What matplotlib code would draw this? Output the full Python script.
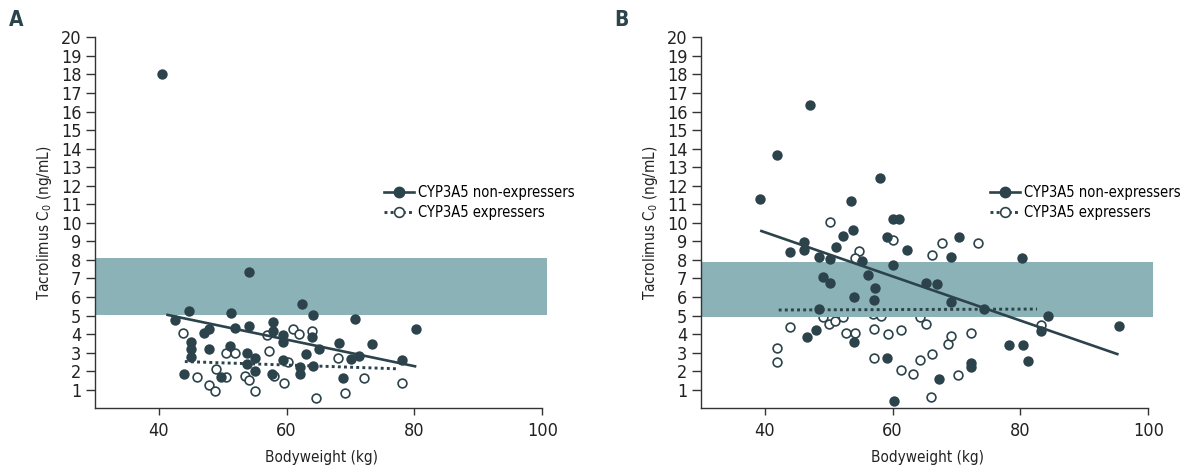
import numpy as np
import matplotlib.pyplot as plt
import matplotlib.font_manager as fm

# the original uses a narrow sans; pick the narrowest regular one available
stretch_rank = {'ultra-condensed': 0, 'extra-condensed': 1, 'condensed': 2,
                'semi-condensed': 3}
family_rank = {'Noto Sans': 0, 'Open Sans': 1, 'Roboto': 2, 'DejaVu Sans': 3}
narrow = None
best = None
for f in fm.fontManager.ttflist:
    if f.stretch in stretch_rank and f.style == 'normal' and f.weight in (400, 'normal', 'regular'):
        key = (stretch_rank[f.stretch], family_rank.get(f.name, 9))
        if best is None or key < best:
            best = key
            narrow = (f.name, f.stretch)
if narrow:
    plt.rcParams['font.family'] = [narrow[0], 'DejaVu Sans']
    plt.rcParams['font.stretch'] = narrow[1]
    tick_fs, label_fs, legend_fs = 13, 11, 10.5
else:
    plt.rcParams['font.family'] = ['Liberation Sans', 'DejaVu Sans']
    tick_fs, label_fs, legend_fs = 11.5, 10, 9

dark = '#2c434b'
band_col = '#8ab2b7'

# panel A - CYP3A5 non-expressers (filled)
a_non_x = [40.6, 54.1, 42.5, 44.8, 51.25, 62.5, 64.2, 70.7, 80.2, 57.9, 57.9, 47.9, 47.1,
           51.9, 54.1, 59.5, 59.5, 64.0, 68.2, 73.4, 45.0, 45.0, 45.0, 47.9, 51.1, 65.1,
           63.0, 53.85, 55.05, 59.5, 70.1, 71.3, 78.1, 53.85, 62.1, 62.1, 64.1, 55.05,
           57.7, 49.7, 44.0, 68.9]
a_non_y = [18.0, 7.36, 4.77, 5.27, 5.16, 5.63, 5.05, 4.8, 4.26, 4.67, 4.19, 4.3, 4.05,
           4.35, 4.44, 3.94, 3.58, 3.86, 3.54, 3.45, 3.58, 3.2, 2.75, 3.2, 3.38, 3.2,
           2.93, 3.0, 2.7, 2.61, 2.66, 2.84, 2.61, 2.39, 2.21, 1.83, 2.3, 2.01,
           1.83, 1.67, 1.83, 1.62]
# panel A - CYP3A5 expressers (open)
a_exp_x = [43.8, 61.0, 61.9, 64.0, 57.0, 57.2, 50.5, 51.9, 68.1, 60.3, 49.0, 46.0, 50.5,
           53.5, 58.1, 72.1, 47.9, 54.2, 59.6, 78.1, 48.8, 55.1, 69.1, 64.6]
a_exp_y = [4.05, 4.26, 3.99, 4.19, 3.96, 3.1, 2.97, 2.97, 2.7, 2.5, 2.1, 1.67, 1.67,
           1.76, 1.76, 1.62, 1.24, 1.53, 1.38, 1.35, 0.95, 0.93, 0.84, 0.54]
a_fit_non_x = [41.2, 80.3]
a_fit_non_y = [5.05, 2.25]
a_fit_exp_x = [44.1, 77.3]
a_fit_exp_y = [2.52, 2.13]
a_range = [5.05, 8.08]

# panel B - CYP3A5 non-expressers (filled)
b_non_x = [39.2, 41.9, 47.1, 58.1, 53.5, 60.0, 61.0, 53.8, 52.3, 59.2, 70.4, 46.2, 46.2,
           44.0, 51.1, 62.3, 48.5, 50.2, 69.2, 80.2, 55.2, 60.0, 56.1, 49.2, 50.3, 65.2,
           67.0, 57.2, 54.0, 57.1, 69.1, 74.3, 48.5, 84.3, 83.3, 48.1, 46.7, 54.0, 78.2,
           80.4, 81.2, 59.1, 72.2, 72.2, 67.3, 60.2, 95.4]
b_non_y = [11.28, 13.67, 16.33, 12.41, 11.19, 10.2, 10.2, 9.62, 9.31, 9.21, 9.24, 8.99, 8.54,
           8.4, 8.69, 8.54, 8.15, 8.04, 8.13, 8.09, 7.93, 7.7, 7.18, 7.07, 6.78, 6.75,
           6.72, 6.47, 6.02, 5.84, 5.74, 5.36, 5.36, 4.96, 4.15, 4.22, 3.83, 3.59, 3.42,
           3.42, 2.54, 2.73, 2.43, 2.25, 1.58, 0.39, 4.41]
# panel B - CYP3A5 expressers (open)
b_exp_x = [50.2, 60.0, 54.8, 54.1, 67.7, 73.3, 66.2, 49.1, 50.1, 51.0, 52.3, 44.0, 52.7,
           54.15, 57.1, 59.3, 61.3, 42.0, 42.0, 57.1, 61.3, 63.2, 64.3, 66.2, 68.7, 69.1,
           72.2, 70.2, 66.0, 83.3, 64.3, 65.2, 57.0, 58.2]
b_exp_y = [10.05, 9.05, 8.5, 8.1, 8.93, 8.93, 8.25, 4.94, 4.53, 4.73, 4.94, 4.4, 4.08,
           4.08, 4.26, 4.0, 4.23, 3.25, 2.5, 2.72, 2.05, 1.85, 2.62, 2.95, 3.47, 3.88,
           4.07, 1.78, 0.62, 4.5, 4.9, 4.52, 5.1, 5.0]
b_fit_non_x = [39.3, 95.35]
b_fit_non_y = [9.58, 2.9]
b_fit_exp_x = [42.2, 82.6]
b_fit_exp_y = [5.3, 5.35]
b_range = [4.9, 7.9]

x_ticks = [40, 60, 80, 100]
y_ticks = list(range(1, 21))

fig = plt.figure(figsize=(11.82, 4.67), dpi=100)
ax_a = fig.add_axes([0.0801, 0.1257, 0.383, 0.7944])
ax_b = fig.add_axes([0.5928, 0.1257, 0.383, 0.7944])

panels = [
    (ax_a, 'A', a_non_x, a_non_y, a_exp_x, a_exp_y, a_fit_non_x, a_fit_non_y,
     a_fit_exp_x, a_fit_exp_y, a_range),
    (ax_b, 'B', b_non_x, b_non_y, b_exp_x, b_exp_y, b_fit_non_x, b_fit_non_y,
     b_fit_exp_x, b_fit_exp_y, b_range),
]

for ax, letter, nx, ny, ex, ey, fnx, fny, fex, fey, rng in panels:
    # open circles sit under the target band, filled ones on top
    ax.scatter(ex, ey, s=40, facecolor='white', edgecolor=dark, linewidth=1.2, zorder=1)
    ax.axhspan(rng[0], rng[1], color=band_col, lw=0, zorder=2)
    ax.scatter(nx, ny, s=56, color=dark, lw=0, zorder=3)
    ax.plot(fnx, fny, color=dark, lw=1.9, zorder=4, solid_capstyle='butt')
    ax.plot(fex, fey, color=dark, lw=2.1, ls=(0, (1, 1.1)), zorder=4)

    ax.set_xlim(30, 100.8)
    ax.set_ylim(0, 20)
    ax.spines['top'].set_visible(False)
    ax.spines['right'].set_visible(False)
    ax.spines['bottom'].set_bounds(30, 100)
    for sp in ('left', 'bottom'):
        ax.spines[sp].set_color('#333333')
        ax.spines[sp].set_linewidth(1.0)
    ax.set_xticks(x_ticks)
    ax.set_yticks(y_ticks)
    ax.tick_params(axis='y', direction='out', length=6.5, width=1.0, pad=3,
                   labelsize=tick_fs, colors='#333333', labelcolor='#222222')
    ax.tick_params(axis='x', direction='out', length=5, width=1.0, pad=5,
                   labelsize=tick_fs, colors='#333333', labelcolor='#222222')
    ax.set_xlabel('Bodyweight (kg)', fontsize=label_fs, color='#222222', labelpad=7)
    ax.set_ylabel(r'Tacrolimus C$_\mathregular{0}$ (ng/mL)', fontsize=label_fs,
                  color='#222222', labelpad=5)

    h_non, = ax.plot([], [], color=dark, lw=1.9, marker='o', ms=7.5, mec=dark, mfc=dark)
    h_exp, = ax.plot([], [], color=dark, lw=2.1, ls=(0, (1, 1.1)), marker='o', ms=7,
                     mfc='white', mec=dark, mew=1.2)
    ax.legend([h_non, h_exp], ['CYP3A5 non-expressers', 'CYP3A5 expressers'],
              loc='upper left', bbox_to_anchor=(0.64, 0.602), frameon=False,
              fontsize=legend_fs, handlelength=2.0, handletextpad=0.3, labelspacing=0.34,
              borderpad=0, borderaxespad=0)

    ax.text(-0.19, 1.02, letter, transform=ax.transAxes, fontsize=15,
            fontweight='bold', color=dark, family='DejaVu Sans', va='bottom')

fig.savefig('out.png', dpi=100)
